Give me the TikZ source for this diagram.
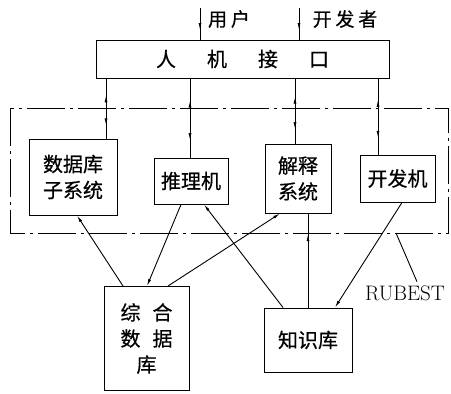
\documentclass[tikz,border=0pt]{standalone}
\usepackage{fontspec}
\newfontfamily\cjk[FakeBold=0.6]{Noto Sans CJK SC}
\usetikzlibrary{arrows.meta,decorations.markings}

\tikzset{
  box/.style={draw, line width=1pt, inner sep=2pt, align=center, font=\cjk\fontsize{20}{26}\selectfont},
  tip/.style={-{Latex[length=7pt,width=3pt]}},
  bimid/.style={postaction={decorate}, decoration={markings,
      mark=at position 0.28 with {\arrowreversed{Latex[length=7pt,width=3pt]}},
      mark=at position 0.78 with {\arrow{Latex[length=7pt,width=3pt]}}}},
  downmid/.style={postaction={decorate}, decoration={markings,
      mark=at position 0.7 with {\arrow{Latex[length=7pt,width=3pt]}}}},
  upmid/.style={postaction={decorate}, decoration={markings,
      mark=at position 0.22 with {\arrowreversed{Latex[length=7pt,width=3pt]}}}},
  frame/.style={line width=0.9pt, dash pattern=on 38pt off 5pt on 3pt off 5pt}
}

\begin{document}
\begin{tikzpicture}[x=1pt, y=-1pt, line width=0.9pt]
  \useasboundingbox (0,0) rectangle (451,394);

  % human-machine interface
  \node[box, minimum width=293pt, minimum height=38pt] (hmi) at (242.5,59)
    {人\hspace{1.55em}机\hspace{1.55em}接\hspace{1.55em}口};
  \coordinate (usr) at (200,8);
  \coordinate (dev) at (299,8);
  \node[font=\cjk\fontsize{19}{22}\selectfont] (usrlbl) at (229,19) {用\hspace{0.2em}户};
  \node[font=\cjk\fontsize{19}{22}\selectfont] (devlbl) at (345,19) {开\hspace{0.2em}发\hspace{0.2em}者};
  \draw[downmid] (usr) -- (usr |- hmi.north);
  \draw[downmid] (dev) -- (dev |- hmi.north);

  % RUBEST frame
  \draw[frame] (10,108) rectangle (448,233);
  \coordinate (framebot) at (396,233);

  % subsystems
  \node[box, minimum width=88pt, minimum height=76pt] (dbsub) at (73,177) {数据库\\子系统};
  \node[box, minimum width=74pt, minimum height=46pt] (infer) at (191,181) {推理机};
  \node[box, minimum width=66pt, minimum height=69pt] (explain) at (298,178.5) {解释\\系统};
  \node[box, minimum width=75pt, minimum height=47pt] (devm) at (397.5,178.5) {开发机};

  % data and knowledge
  \node[box, minimum width=85pt, minimum height=104pt] (cdb) at (146.5,338.5)
    {综\hspace{0.6em}合\\数\hspace{0.6em}据\\库};
  \node[box, minimum width=88pt, minimum height=64pt] (kb) at (308,340) {知识库};

  % interface links
  \draw[bimid] ([xshift=33pt]dbsub.north |- hmi.south) -- ([xshift=33pt]dbsub.north);
  \draw[bimid] ([xshift=-1pt]infer.north |- hmi.south) -- ([xshift=-1pt]infer.north);
  \draw[bimid] ([xshift=-3pt]explain.north |- hmi.south) -- ([xshift=-3pt]explain.north);
  \draw[bimid] ([xshift=-19.5pt]devm.north |- hmi.south) -- ([xshift=-19.5pt]devm.north);

  % database links
  \draw[tip] ([xshift=-23.5pt]cdb.north) -- ([xshift=4pt]dbsub.south);
  \draw[tip, {Latex[length=7pt,width=3pt]}-] ([xshift=0.5pt]cdb.north) -- ([xshift=-10pt]infer.south);
  \draw[tip] ([xshift=21.5pt]cdb.north) -- ([xshift=-18pt]explain.south);

  % knowledge links
  \draw[tip] ([xshift=-25pt]kb.north) -- ([xshift=13pt]infer.south);
  \draw[upmid] ([xshift=10pt]explain.south) -- ([xshift=10pt]explain.south |- kb.north);
  \draw[tip, {Latex[length=7pt,width=3pt]}-] ([xshift=27pt]kb.north) -- ([xshift=4.5pt]devm.south);

  % label
  \node[font=\fontsize{21}{24}\selectfont] (rubestlbl) at (405,293) {RUBEST};
  \draw ([xshift=12pt]rubestlbl.north) -- (framebot);
\end{tikzpicture}
\end{document}
